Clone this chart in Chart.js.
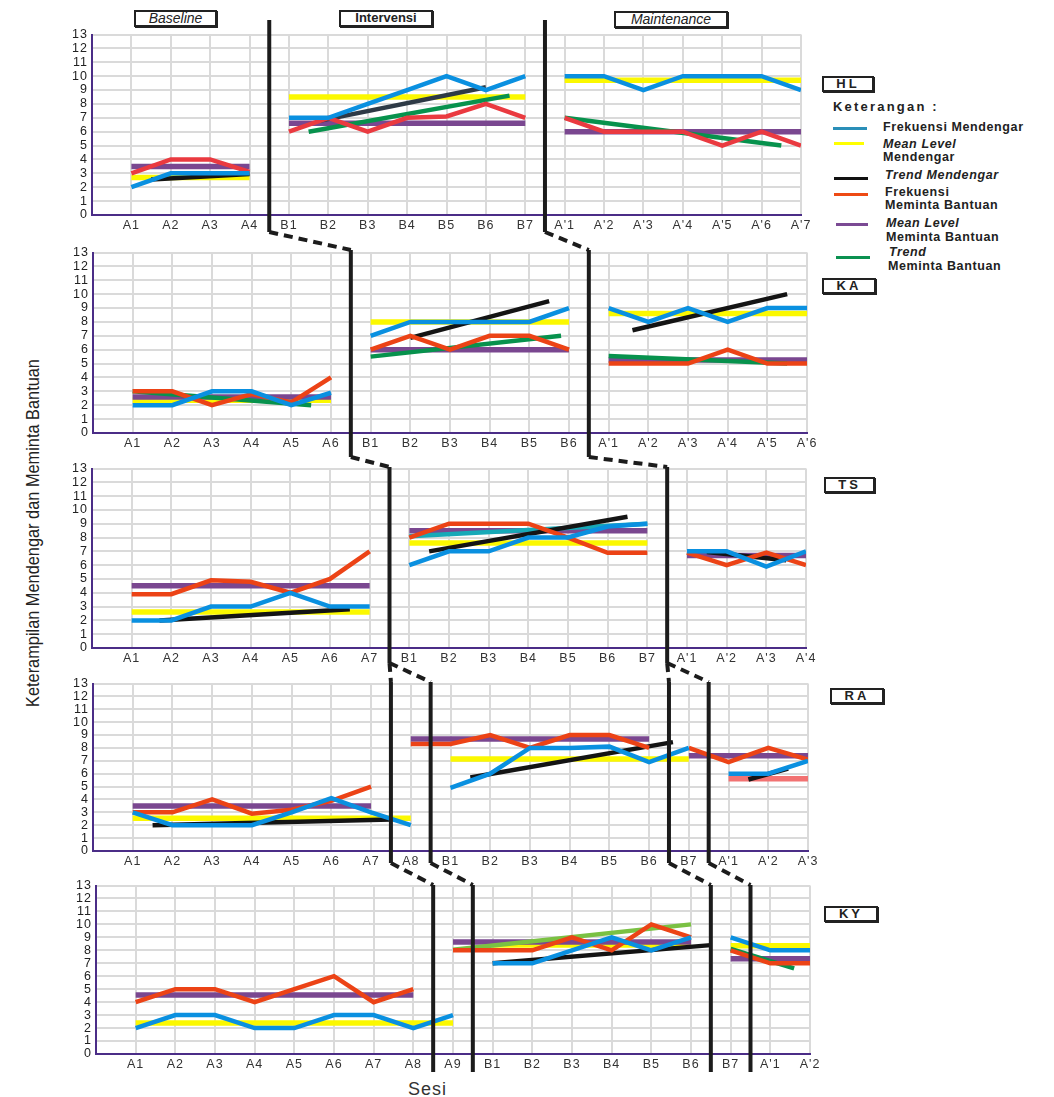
<!DOCTYPE html>
<html>
<head>
<meta charset="utf-8">
<script src="https://cdn.jsdelivr.net/npm/chart.js@4.4.1/dist/chart.umd.min.js"></script>
<style>
  body { margin: 0; background: #fff; width: 1054px; height: 1097px; position: relative; overflow: hidden;
         font-family: "Liberation Sans", Arial, sans-serif; color: #222; }
  .panel { position: absolute; left: 0; }
  .panel canvas { display: block; }
  .box { position: absolute; box-sizing: border-box; border: 2px solid #222; box-shadow: 1px 1px 0 #222;
         background: #fff; text-align: center; font-size: 13px; line-height: 12px; }
  .tag { font-weight: bold; letter-spacing: 3px; }
  .lg { position: absolute; height: 3px; }
  .lt { position: absolute; font-size: 12.5px; font-weight: bold; letter-spacing: 0.6px; white-space: nowrap; line-height: 13px; }
  #overlay { position: absolute; left: 0; top: 0; pointer-events: none; }
  #ytitle { position: absolute; left: 33px; top: 533px; transform: translate(-50%, -50%) rotate(-90deg) scaleX(0.86);
            white-space: nowrap; font-family: "Liberation Sans", Arial, sans-serif;
            font-size: 19px; color: #222; }
  #xtitle { position: absolute; left: 408px; top: 1079px; font-size: 18px; letter-spacing: 1px; color: #333; }
</style>
</head>
<body>

<div class="box" style="left:134px;top:10px;width:83px;height:17px;font-style:italic;font-size:14px;">Baseline</div>
<div class="box" style="left:339px;top:10px;width:94px;height:17px;font-weight:bold;">Intervensi</div>
<div class="box" style="left:614px;top:11px;width:114px;height:17px;font-style:italic;font-size:14px;">Maintenance</div>

<div class="box tag" style="left:822px;top:76px;width:52px;height:16px;">HL</div>
<div class="box tag" style="left:822px;top:278px;width:54px;height:16px;">KA</div>
<div class="box tag" style="left:824px;top:477px;width:51px;height:16px;">TS</div>
<div class="box tag" style="left:830px;top:688px;width:54px;height:16px;">RA</div>
<div class="box tag" style="left:824px;top:906px;width:54px;height:16px;">KY</div>

<div class="lt" style="left:833px;top:100px;font-size:13px;letter-spacing:2.2px;">Keterangan :</div>
<div class="lg" style="left:833px;top:127px;width:34px;background:#2a8fb8;"></div>
<div class="lt" style="left:883px;top:121px;">Frekuensi Mendengar</div>
<div class="lg" style="left:834px;top:142px;width:30px;background:#ffff00;"></div>
<div class="lt" style="left:883px;top:138px;font-style:italic;">Mean Level</div>
<div class="lt" style="left:883px;top:151px;">Mendengar</div>
<div class="lg" style="left:834px;top:177px;width:34px;background:#111;"></div>
<div class="lt" style="left:885px;top:169px;font-style:italic;">Trend Mendengar</div>
<div class="lg" style="left:834px;top:193px;width:34px;background:#ee4a14;"></div>
<div class="lt" style="left:885px;top:186px;">Frekuensi</div>
<div class="lt" style="left:885px;top:199px;">Meminta Bantuan</div>
<div class="lg" style="left:836px;top:223px;width:32px;background:#7b4a94;"></div>
<div class="lt" style="left:886px;top:217px;font-style:italic;">Mean Level</div>
<div class="lt" style="left:886px;top:231px;">Meminta Bantuan</div>
<div class="lg" style="left:836px;top:256px;width:34px;background:#0a9150;"></div>
<div class="lt" style="left:889px;top:246px;font-style:italic;">Trend</div>
<div class="lt" style="left:888px;top:260px;">Meminta Bantuan</div>

<div id="ytitle">Keterampilan Mendengar dan Meminta Bantuan</div>
<div id="xtitle">Sesi</div>

<canvas id="overlay" width="1054" height="1097"></canvas>

<script>
// ---- data: HL ----
const sesiHL = ['A1','A2','A3','A4','B1','B2','B3','B4','B5','B6','B7',"A'1","A'2","A'3","A'4","A'5","A'6","A'7"]
const mendengarHL = [2,3,3,3, 7,7,8,9,10,9,10, 10,10,9,10,10,10,9]
const bantuanHL = [3,4,4,3.1, 6,7,6,7,7.1,8,7, 7,6,6,6,5,6,5]
const faseMendengarHL = [4, 11]
const faseBantuanHL = [4, 11]
const meanMendengarHL = [2.7, 8.5, 9.7]
const meanBantuanHL = [3.5, 6.6, 6.0]
const trendMendengarHL = [[1.5,2.55,4,2.95], [5.8,6.8,10,9.2], null]
const trendBantuanHL = [null, [5.5,6.0,10.6,8.6], [12,7.0,17.5,5.0]]

// ---- data: KA ----
const sesiKA = ['A1','A2','A3','A4','A5','A6','B1','B2','B3','B4','B5','B6',"A'1","A'2","A'3","A'4","A'5","A'6"]
const mendengarKA = [2,2,3,3,2,2.9, 7,8,8,8,8,9, 9,8,9,8,9,9]
const bantuanKA = [3,3,2,2.8,2.2,4, 6,7,6,7,7,6, 5,5,5,6,5,5]
const faseMendengarKA = [6, 12]
const faseBantuanKA = [6, 12]
const meanMendengarKA = [2.35, 8.0, 8.6]
const meanBantuanKA = [2.6, 6.0, 5.25]
const trendMendengarKA = [null, [8,6.85,11.5,9.5], [13.6,7.4,17.5,10.0]]
const trendBantuanKA = [[1,3.0,5.5,2.0], [7,5.5,11.8,7.0], [13,5.55,17.5,5.0]]

// ---- data: TS ----
const sesiTS = ['A1','A2','A3','A4','A5','A6','A7','B1','B2','B3','B4','B5','B6','B7',"A'1","A'2","A'3","A'4"]
const mendengarTS = [2,2,3,3,4,3,3, 6,7,7,8,8,8.8,9, 7,7,5.9,7]
const bantuanTS = [3.9,3.9,4.9,4.8,4,5,7, 8,9,9,9,8,6.9,6.9, 6.9,6,6.9,6]
const faseMendengarTS = [7, 14]
const faseBantuanTS = [7, 14]
const meanMendengarTS = [2.6, 7.6, null]
const meanBantuanTS = [4.5, 8.5, 6.7]
const trendMendengarTS = [[1.7,2.0,6.5,2.8], [8.5,7.0,13.5,9.5], [15.5,6.95,17.5,6.35]]
const trendBantuanTS = [null, [8,8.1,14,9.0], null]

// ---- data: RA ----
const sesiRA = ['A1','A2','A3','A4','A5','A6','A7','A8','B1','B2','B3','B4','B5','B6','B7',"A'1","A'2","A'3"]
const mendengarRA = [3,2,2,2,3,4.1,3,2, 4.9,6,8,8,8.1,6.9,8, 6,6,7]
const bantuanRA = [3,3,4,2.9,3.2,3.9,5, 8.3,8.3,9,8,9,9,8, 8,6.9,8,7.1]
const faseMendengarRA = [8, 15]
const faseBantuanRA = [7, 14]
const meanMendengarRA = [2.55, 7.15, 5.6]
const meanBantuanRA = [3.5, 8.7, 7.4]
const trendMendengarRA = [[1.5,2.0,7.5,2.45], [9.5,5.7,14.6,8.45], [16.5,5.55,17.5,6.4]]
const trendBantuanRA = [null, null, null]

// ---- data: KY ----
const sesiKY = ['A1','A2','A3','A4','A5','A6','A7','A8','A9','B1','B2','B3','B4','B5','B6','B7',"A'1","A'2"]
const mendengarKY = [2,3,3,2,2,3,3,2,3, 7,7,8,9,8,9, 9,8,8]
const bantuanKY = [4,5,5,4,5,6,4,5, 8,8,8,9,8,10,9, 8,7,7]
const faseMendengarKY = [9, 15]
const faseBantuanKY = [8, 15]
const meanMendengarKY = [2.4, 8.4, 8.35]
const meanBantuanKY = [4.55, 8.65, 7.35]
const trendMendengarKY = [null, [10,7.0,15.5,8.4], null]
const trendBantuanKY = [null, [9,8.05,15,10.0], [16,8.1,17.6,6.6]]

// phase change lines, in session units, per panel
const garisFase = [
  [[4.5], [6.5], [7.5], [7.5, 8.5], [8.5, 9.5]],
  [[11.5], [12.5], [14.5], [14.5, 15.5], [15.5, 16.5]]
]

const BIRU = '#0a90e0'
const KUNING = '#fbf800'
const HITAM = '#141414'
const MERAH = '#ec4316'
const UNGU = '#7a4790'
const HIJAU = '#07924d'

const panels = [
  { sesi: sesiHL, mendengar: mendengarHL, faseM: faseMendengarHL, bantuan: bantuanHL, faseB: faseBantuanHL,
    meanM: meanMendengarHL, meanB: meanBantuanHL, trendM: trendMendengarHL, trendB: trendBantuanHL,
    merah: '#ea3a40', hitam: ['#141414', '#2e3a46', '#141414'] },
  { sesi: sesiKA, mendengar: mendengarKA, faseM: faseMendengarKA, bantuan: bantuanKA, faseB: faseBantuanKA,
    meanM: meanMendengarKA, meanB: meanBantuanKA, trendM: trendMendengarKA, trendB: trendBantuanKA },
  { sesi: sesiTS, mendengar: mendengarTS, faseM: faseMendengarTS, bantuan: bantuanTS, faseB: faseBantuanTS,
    meanM: meanMendengarTS, meanB: meanBantuanTS, trendM: trendMendengarTS, trendB: trendBantuanTS,
    hijau: ['#17a9b7', '#17a9b7', '#17a9b7'] },
  { sesi: sesiRA, mendengar: mendengarRA, faseM: faseMendengarRA, bantuan: bantuanRA, faseB: faseBantuanRA,
    meanM: meanMendengarRA, meanB: meanBantuanRA, trendM: trendMendengarRA, trendB: trendBantuanRA,
    kuning: [KUNING, KUNING, '#f27272'] },
  { sesi: sesiKY, mendengar: mendengarKY, faseM: faseMendengarKY, bantuan: bantuanKY, faseB: faseBantuanKY,
    meanM: meanMendengarKY, meanB: meanBantuanKY, trendM: trendMendengarKY, trendB: trendBantuanKY,
    hijau: [HIJAU, '#7ac143', HIJAU] }
]

// where each plot area sits on the page
const W = 830
const panelLayout = [
  { top: 33, bottom: 215, left: 92, right: 801, lineTop: 20, lineBottom: 232 },
  { top: 251, bottom: 433, left: 93, right: 807, lineTop: 250, lineBottom: 457 },
  { top: 467, bottom: 648, left: 92, right: 806, lineTop: 467, lineBottom: 663 },
  { top: 682, bottom: 851, left: 93, right: 808, lineTop: 682, lineBottom: 863 },
  { top: 884, bottom: 1054, left: 96, right: 810, lineTop: 885, lineBottom: 1072 }
]

function line(points, color, width) {
  return {
    data: points,
    borderColor: color,
    backgroundColor: color,
    borderWidth: width,
    pointRadius: 0,
    fill: false,
    tension: 0,
    borderCapStyle: 'butt'
  }
}

function bounds(values, starts) {
  return [0, ...starts, values.length]
}

function seriesSets(values, starts, color) {
  const b = bounds(values, starts)
  const out = []
  for (let k = 0; k < b.length - 1; k++) {
    const pts = values.slice(b[k], b[k + 1]).map((v, j) => ({ x: b[k] + j + 1, y: v }))
    out.push(line(pts, color, 4.5))
  }
  return out
}

function meanSets(means, values, starts, colors) {
  const b = bounds(values, starts)
  const out = []
  means.forEach((m, k) => {
    if (m == null) return
    out.push(line([{ x: b[k] + 1, y: m }, { x: b[k + 1], y: m }], colors[k], 5.5))
  })
  return out
}

function trendSets(trends, colors) {
  const out = []
  trends.forEach((t, k) => {
    if (!t) return
    out.push(line([{ x: t[0], y: t[1] }, { x: t[2], y: t[3] }], colors[k], 4.5))
  })
  return out
}

const tickFont = { family: '"Liberation Sans", Arial, sans-serif', size: 12.5 }

const spacing = {
  id: 'spacing',
  beforeDraw(chart) { chart.ctx.letterSpacing = '1px' }
}

function buildPanel(p, L) {
  const padTop = 10
  const axisH = 24
  const h = L.bottom - L.top + padTop + axisH
  const div = document.createElement('div')
  div.className = 'panel'
  div.style.top = (L.top - padTop) + 'px'
  div.style.width = W + 'px'
  div.style.height = h + 'px'
  const cv = document.createElement('canvas')
  cv.width = W
  cv.height = h
  div.appendChild(cv)
  document.body.insertBefore(div, document.getElementById('overlay'))

  const yellow = p.kuning || [KUNING, KUNING, KUNING]
  const green = p.hijau || [HIJAU, HIJAU, HIJAU]
  const black = p.hitam || [HITAM, HITAM, HITAM]
  const red = p.merah || MERAH

  // bottom to top
  const layers = [
    ...meanSets(p.meanM, p.mendengar, p.faseM, yellow),
    ...meanSets(p.meanB, p.bantuan, p.faseB, [UNGU, UNGU, UNGU]),
    ...trendSets(p.trendB, green),
    ...trendSets(p.trendM, black),
    ...seriesSets(p.bantuan, p.faseB, red),
    ...seriesSets(p.mendengar, p.faseM, BIRU)
  ]

  return new Chart(cv, {
    type: 'line',
    data: { datasets: layers.reverse() },
    plugins: [spacing],
    options: {
      responsive: false,
      animation: false,
      layout: { padding: { top: padTop, right: W - L.right, left: 0, bottom: 0 } },
      plugins: { legend: { display: false }, tooltip: { enabled: false } },
      scales: {
        x: {
          type: 'linear',
          min: 0,
          max: p.sesi.length,
          afterBuildTicks: axis => { axis.ticks = p.sesi.map((_, i) => ({ value: i + 1 })) },
          afterFit: s => { s.height = axisH },
          ticks: {
            autoSkip: false,
            maxRotation: 0,
            padding: 3,
            color: '#333',
            font: tickFont,
            callback: v => p.sesi[v - 1] || ''
          },
          grid: { color: '#dadada', lineWidth: 2, drawTicks: false },
          border: { color: '#4b2d87', width: 2 }
        },
        y: {
          min: 0,
          max: 13,
          afterFit: s => { s.width = L.left },
          ticks: { stepSize: 1, autoSkip: false, padding: 4, color: '#222', font: tickFont },
          grid: { color: '#dadada', lineWidth: 2, drawTicks: false },
          border: { color: '#4b2d87', width: 2 }
        }
      }
    }
  })
}

const charts = panels.map((p, i) => buildPanel(p, panelLayout[i]))

// phase change lines over all panels
const ctx = document.getElementById('overlay').getContext('2d')
ctx.strokeStyle = '#1c1c1c'
ctx.lineWidth = 4
ctx.lineCap = 'butt'
garisFase.forEach(stair => {
  stair.forEach((cuts, i) => {
    const L = panelLayout[i]
    const xs = cuts.map(v => charts[i].scales.x.getPixelForValue(v))
    ctx.setLineDash([])
    xs.forEach(x => {
      ctx.beginPath()
      ctx.moveTo(x, L.lineTop)
      ctx.lineTo(x, L.lineBottom)
      ctx.stroke()
    })
    if (i < stair.length - 1) {
      const N = panelLayout[i + 1]
      const next = stair[i + 1].map(v => charts[i + 1].scales.x.getPixelForValue(v))
      ctx.setLineDash([9, 6])
      next.forEach((x2, k) => {
        const x1 = xs[Math.min(k, xs.length - 1)]
        ctx.beginPath()
        ctx.moveTo(x1, L.lineBottom)
        ctx.lineTo(x2, N.lineTop)
        ctx.stroke()
      })
    }
  })
})
</script>
</body>
</html>
